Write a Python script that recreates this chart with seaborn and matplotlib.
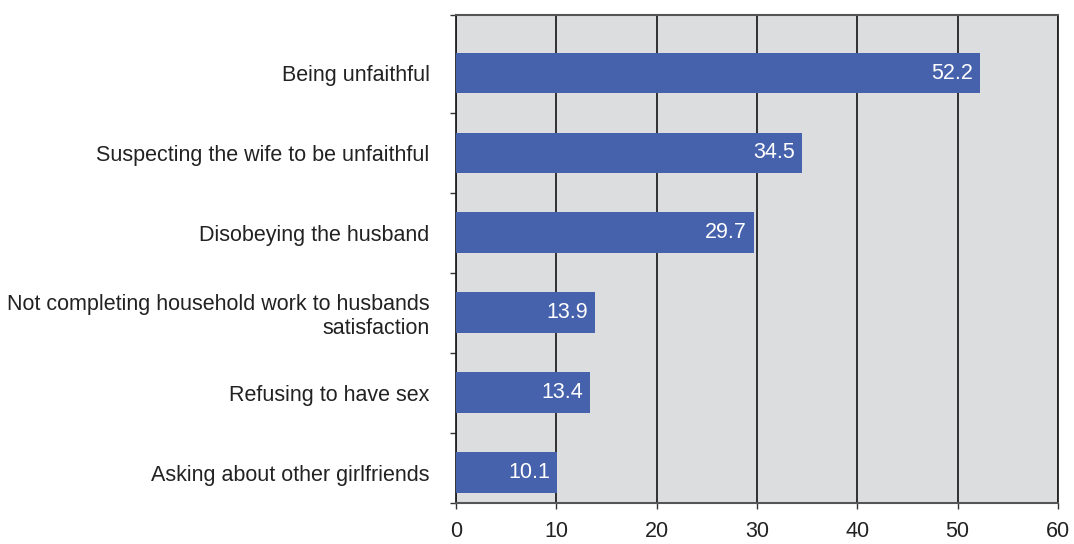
import numpy as np
import pandas as pd
import matplotlib
matplotlib.use("Agg")
import matplotlib.pyplot as plt
import seaborn as sns

categories = [
    "Being unfaithful",
    "Suspecting the wife to be unfaithful",
    "Disobeying the husband",
    "Not completing household work to husbands\nsatisfaction",
    "Refusing to have sex",
    "Asking about other girlfriends",
]
values = [52.2, 34.5, 29.7, 13.9, 13.4, 10.1]
x_ticks = [0, 10, 20, 30, 40, 50, 60]

BAR = "#4662ac"
BG = "#dcdddf"
FS = 15.5

sns.set_theme(style="white")
plt.rcParams["font.family"] = ["Liberation Sans", "DejaVu Sans"]

df = pd.DataFrame({"label": categories, "value": values})

fig = plt.figure(figsize=(10.74, 5.44), dpi=100)
ax = fig.add_axes([456 / 1074, 41 / 544, 602 / 1074, 488 / 544])
ax.set_facecolor(BG)

sns.barplot(data=df, x="value", y="label", orient="h", color=BAR,
            width=0.51, saturation=1, linewidth=0, ax=ax, zorder=3)

for i, v in enumerate(values):
    ax.text(v - 0.7, i, f"{v:.1f}", color="white", ha="right", va="center",
            fontsize=FS, zorder=4)

# asymmetric limits as in the original
ax.set_xlim(0, 60)
ax.set_ylim(5.38, -0.726)
ax.set_xticks(x_ticks)
ax.set_xticklabels([str(t) for t in x_ticks], fontsize=FS, color="#222222")
ax.xaxis.grid(True, color="#222222", linewidth=1.3)
for gl in ax.get_xgridlines():
    gl.set_zorder(1)
ax.tick_params(axis="x", which="major", direction="out", length=4.3,
               width=1.0, color="#333333", pad=8.5, bottom=True, top=False)
ax.tick_params(axis="y", which="major", length=0, pad=19, labelsize=FS,
               labelcolor="#222222")
ax.set_yticks([-0.726] + [i + 0.5 for i in range(5)] + [5.38], minor=True)
ax.tick_params(axis="y", which="minor", direction="out", length=4.3,
               width=1.0, color="#333333", left=True)
for t in ax.get_yticklabels():
    t.set_horizontalalignment("right")
    t.set_linespacing(1.15)
ax.set_xlabel("")
ax.set_ylabel("")

for side in ["left", "right"]:
    ax.spines[side].set_color("#222222")
    ax.spines[side].set_linewidth(1.3)
for side in ["top", "bottom"]:
    ax.spines[side].set_color("#555555")
    ax.spines[side].set_linewidth(1.5)

fig.savefig("out.png", dpi=100)
